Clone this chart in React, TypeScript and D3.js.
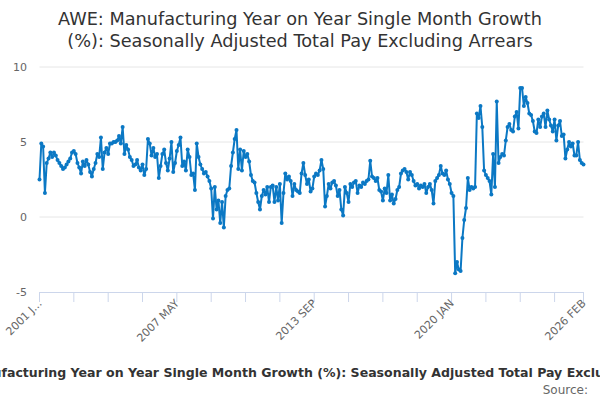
import { useEffect, useRef } from 'react'
import * as d3 from 'd3'

const titleLines = [
  'AWE: Manufacturing Year on Year Single Month Growth',
  '(%): Seasonally Adjusted Total Pay Excluding Arrears',
]
const seriesName = 'AWE: Manufacturing Year on Year Single Month Growth (%): Seasonally Adjusted Total Pay Excluding Arrears'
const sourceText = 'Source:'

// monthly values, Jan 2001 .. Feb 2026
const v2001 = [2.5, 4.9, 4.7, 1.6, 3.6, 3.9, 4.3, 4.0, 4.3, 4.1, 3.8, 3.6]
const v2002 = [3.4, 3.2, 3.3, 3.5, 3.7, 3.9, 4.3, 4.4, 4.2, 3.6, 3.3, 2.9]
const v2003 = [3.7, 3.4, 3.8, 3.5, 3.0, 2.7, 3.2, 3.6, 4.2, 4.0, 5.3, 3.2]
const v2004 = [4.3, 4.6, 4.2, 4.9, 4.9, 5.0, 5.0, 5.1, 5.4, 4.9, 6.0, 4.2]
const v2005 = [4.8, 4.5, 4.0, 3.8, 3.4, 3.5, 3.8, 3.3, 3.1, 3.5, 2.8, 3.2]
const v2006 = [5.2, 4.9, 4.1, 4.6, 4.0, 4.2, 2.6, 3.4, 4.2, 4.5, 3.6, 3.1]
const v2007 = [3.9, 5.0, 3.0, 3.6, 4.4, 4.8, 5.3, 3.4, 3.7, 3.1, 4.5, 4.0]
const v2008 = [2.8, 2.9, 1.8, 4.9, 4.0, 3.5, 3.2, 2.9, 3.0, 2.7, 2.4, 1.9]
const v2009 = [-0.1, 2.0, 0.5, 1.1, -0.4, 1.0, -0.7, 1.4, 1.8, 1.9, 3.4, 4.3]
const v2010 = [5.2, 5.8, 3.2, 4.5, 3.1, 4.4, 4.0, 4.2, 3.7, 2.8, 2.4, 2.3]
const v2011 = [1.6, 1.0, 0.5, 1.4, 1.8, 1.5, 2.0, 1.0, 2.0, 2.1, 1.0, 2.0]
const v2012 = [1.1, 2.2, -0.4, 1.6, 2.9, 2.5, 2.7, 2.4, 1.4, 2.2, 1.8, 1.7]
const v2013 = [1.6, 2.9, 3.6, 2.8, 2.2, 2.5, 1.7, 1.9, 2.7, 2.9, 2.8, 3.1]
const v2014 = [3.8, 3.2, 0.7, 1.4, 2.2, 1.9, 2.3, 2.4, 2.1, 1.4, 1.8, 0.5]
const v2015 = [0.1, 2.0, 1.6, 1.0, 2.2, 2.0, 2.3, 2.4, 1.6, 2.1, 2.0, 2.3]
const v2016 = [2.2, 2.4, 2.5, 3.75, 2.7, 2.6, 2.4, 2.6, 1.8, 1.7, 1.1, 1.9]
const v2017 = [1.6, 2.8, 1.1, 1.5, 0.9, 1.2, 1.8, 2.0, 2.9, 3.1, 3.2, 3.0]
const v2018 = [2.5, 3.0, 2.8, 2.4, 2.1, 2.2, 1.9, 2.1, 2.0, 2.2, 1.6, 2.0]
const v2019 = [2.2, 1.8, 0.9, 2.4, 2.6, 2.8, 3.4, 2.9, 2.8, 3.1, 2.5, 2.2]
const v2020 = [1.6, 1.4, -3.75, -3.0, -3.5, -3.6, -1.4, -0.2, 0.6, 2.6, 1.8, 2.0]
const v2021 = [1.9, 2.0, 6.9, 6.6, 7.4, 6.0, 3.1, 2.8, 2.6, 2.4, 1.5, 4.2]
const v2022 = [2.0, 7.7, 3.6, 4.0, 4.2, 4.1, 5.1, 6.0, 6.2, 5.8, 5.7, 6.7]
const v2023 = [7.0, 5.9, 8.6, 8.6, 7.4, 8.0, 7.6, 6.9, 6.8, 6.4, 5.7, 5.6]
const v2024 = [6.5, 6.0, 6.7, 6.9, 6.0, 7.1, 6.5, 6.1, 5.7, 6.5, 5.1, 6.1]
const v2025 = [6.4, 5.4, 5.5, 3.9, 4.5, 5.0, 4.7, 4.9, 4.1, 4.1, 5.0, 3.8]
const v2026 = [3.6, 3.5]

const values = [
  ...v2001, ...v2002, ...v2003, ...v2004, ...v2005, ...v2006, ...v2007,
  ...v2008, ...v2009, ...v2010, ...v2011, ...v2012, ...v2013, ...v2014,
  ...v2015, ...v2016, ...v2017, ...v2018, ...v2019, ...v2020, ...v2021,
  ...v2022, ...v2023, ...v2024, ...v2025, ...v2026,
]

const yTicks = [-5, 0, 5, 10]
const tickStep = 19 // months between x ticks
const labelMonths = [0, 76, 152, 228, 301]
const labelTexts = ['2001 J...', '2007 MAY', '2013 SEP', '2020 JAN', '2026 FEB']

export default function App() {
  const svgRef = useRef<SVGSVGElement | null>(null)

  useEffect(() => {
    if (!svgRef.current) return
    const svg = d3.select(svgRef.current)
    svg.selectAll('*').remove()

    const W = 600, H = 400
    const left = 39.5, right = 583.5, top = 67, bottom = 292
    const font = '"DejaVu Sans", sans-serif'
    const color = '#0b78c4'
    const n = values.length

    const x = d3.scaleLinear().domain([0, n - 1]).range([left, right])
    const y = d3.scaleLinear().domain([-5, 10]).range([bottom, top])

    svg.append('rect').attr('width', W).attr('height', H).attr('fill', '#fff')

    // title
    titleLines.forEach((t, i) => {
      svg.append('text').attr('x', W / 2).attr('y', 25 + i * 22)
        .attr('text-anchor', 'middle').attr('font-family', font).attr('font-size', '17.7px')
        .attr('fill', '#333').text(t)
    })

    // grid
    yTicks.filter(t => t > -5).forEach(t => {
      svg.append('line').attr('x1', left).attr('x2', right)
        .attr('y1', y(t)).attr('y2', y(t))
        .attr('stroke', '#e6e6e6').attr('stroke-width', 1)
    })
    yTicks.forEach(t => {
      svg.append('text').attr('x', 27).attr('y', y(t)).attr('dy', '0.35em')
        .attr('text-anchor', 'end').attr('font-family', font).attr('font-size', '11px')
        .attr('fill', '#666').text(String(t))
    })

    // x axis
    svg.append('line').attr('x1', left).attr('x2', right)
      .attr('y1', bottom + 0.5).attr('y2', bottom + 0.5)
      .attr('stroke', '#ccd6eb').attr('stroke-width', 1)
    const ticks = d3.range(0, n, tickStep).concat([n - 1])
    ticks.forEach(i => {
      svg.append('line').attr('x1', x(i)).attr('x2', x(i))
        .attr('y1', bottom).attr('y2', bottom + 10)
        .attr('stroke', '#ccd6eb').attr('stroke-width', 1)
    })
    labelMonths.forEach((m, k) => {
      svg.append('text')
        .attr('transform', `translate(${x(m) + 3},${bottom + 12}) rotate(-45)`)
        .attr('text-anchor', 'end').attr('font-family', font).attr('font-size', '11px')
        .attr('fill', '#666').text(labelTexts[k])
    })

    // series
    const line = d3.line<number>().x((_, i) => x(i)).y(d => y(d))
    svg.append('path').datum(values).attr('d', line)
      .attr('fill', 'none').attr('stroke', color).attr('stroke-width', 2)
      .attr('stroke-linejoin', 'round')
    svg.append('g').selectAll('circle').data(values).join('circle')
      .attr('cx', (_, i) => x(i)).attr('cy', d => y(d)).attr('r', 2)
      .attr('fill', color)

    // legend (wider than the chart, clipped by the svg edges)
    const lg = svg.append('g')
    const lt = lg.append('text').attr('x', 21).attr('y', 0).attr('dy', '0.35em')
      .attr('font-family', font).attr('font-size', '12.55px').attr('font-weight', 'bold')
      .attr('fill', '#333').text(seriesName)
    const tw = (lt.node() as SVGTextElement).getComputedTextLength()
    lg.append('line').attr('x1', 0).attr('x2', 16).attr('y1', 0).attr('y2', 0)
      .attr('stroke', color).attr('stroke-width', 2)
    lg.append('circle').attr('cx', 8).attr('cy', 0).attr('r', 2).attr('fill', color)
    lg.attr('transform', `translate(${(W - (21 + tw)) / 2 - 3.5},373)`)

    svg.append('text').attr('x', 588).attr('y', 394).attr('text-anchor', 'end')
      .attr('font-family', font).attr('font-size', '12px').attr('fill', '#666').text(sourceText)
  }, [])

  return (
    <svg ref={svgRef} width={600} height={400}
      style={{ position: 'absolute', left: 0, top: 0, overflow: 'hidden' }} />
  )
}
